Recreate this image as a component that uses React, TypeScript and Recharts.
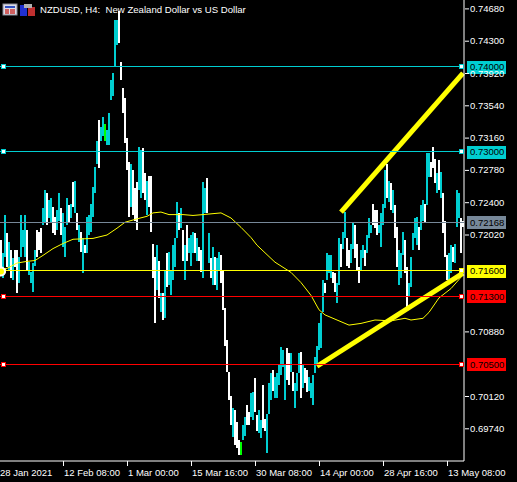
import React from "react";
import { ComposedChart, Bar, Cell, Line, XAxis, YAxis, ReferenceLine, ReferenceDot } from "recharts";

// H4 bars, prices in 1/10000
const barHighs = [
7196,7181,7225,7204,7194,7184,7175,7184,7184,7176,7225,7208,7225,7208,7170,7158,7169,7184,7208,7205,
7210,7234,7255,7251,7243,7245,7235,7223,7231,7251,7234,7228,7211,7245,7237,7239,7264,7266,7228,7214,
7205,7198,7190,7223,7225,7239,7258,7282,7313,7337,7329,7341,7333,7325,7345,7384,7393,7455,7455,7466,
7405,7375,7363,7316,7288,7286,7278,7257,7264,7305,7302,7304,7275,7266,7272,7272,7192,7176,7190,7172,
7134,7134,7161,7181,7182,7161,7190,7199,7241,7228,7234,7208,7190,7214,7199,7202,7205,7204,7199,7188,
7184,7264,7257,7269,7204,7175,7188,7176,7175,7182,7178,7161,7116,7078,7041,7013,6998,6996,6982,6961,
6958,6978,6988,7002,6994,7016,7017,7034,6990,6996,6984,7025,6986,6992,7028,7040,7043,7035,7040,7049,
7070,7067,7049,7069,7063,7063,7041,7028,7040,7063,7064,7049,7045,7043,7035,7028,7037,7058,7072,7099,
7110,7149,7145,7181,7178,7178,7158,7157,7145,7198,7192,7205,7229,7198,7184,7192,7217,7214,7192,7164,
7184,7190,7184,7202,7222,7214,7239,7231,7231,7214,7228,7239,7278,7286,7266,7263,7255,7237,7211,7184,
7181,7205,7196,7164,7145,7176,7204,7222,7223,7211,7237,7243,7239,7299,7299,7288,7305,7292,7275,7290,
7276,7251,7219,7178,7181,7190,7188,7192,7255,7252,7222,7219,
];
const barLows = [
7158,7152,7176,7164,7161,7152,7149,7164,7134,7146,7176,7188,7176,7161,7155,7145,7135,7166,7176,7184,
7181,7214,7216,7214,7222,7216,7204,7202,7208,7219,7202,7188,7176,7214,7216,7222,7235,7228,7208,7194,
7182,7157,7181,7181,7202,7205,7223,7252,7286,7281,7313,7319,7313,7308,7308,7361,7366,7400,7425,7428,
7384,7345,7310,7278,7223,7235,7225,7219,7208,7255,7246,7251,7243,7225,7235,7205,7152,7098,7137,7128,
7111,7102,7104,7141,7143,7131,7149,7164,7198,7208,7210,7172,7149,7172,7181,7166,7181,7181,7172,7172,
7158,7152,7228,7228,7169,7152,7143,7143,7137,7161,7145,7114,7072,7041,7008,6978,6964,6955,6952,6943,
6943,6961,6966,6978,6978,6988,6984,6994,6972,6969,6963,6975,6972,6945,6992,7008,7019,7010,7010,7025,
7037,7047,7008,7031,7025,7041,7019,6998,7019,7040,7010,7022,7028,7017,7019,7010,7002,7040,7049,7067,
7069,7111,7134,7149,7157,7152,7145,7135,7122,7143,7164,7186,7198,7166,7163,7169,7186,7175,7161,7145,
7161,7175,7166,7181,7199,7204,7214,7210,7202,7204,7188,7214,7234,7246,7241,7231,7228,7199,7164,7143,
7152,7178,7157,7117,7129,7141,7184,7199,7190,7184,7208,7219,7216,7237,7270,7270,7281,7263,7252,7255,
7246,7204,7176,7149,7145,7157,7170,7169,7211,7222,7181,7211,
];
// 1 = rising (cyan), 0 = falling (white), 2 = doji (green)
const barDirs = [
0,1,1,0,1,0,1,0,0,1,1,1,1,0,1,1,1,1,0,0,
0,1,1,0,1,1,0,0,1,1,0,1,1,1,0,1,0,1,0,1,
0,1,0,1,1,1,1,1,1,0,1,1,2,1,1,1,1,1,1,0,
0,0,0,0,0,1,0,0,0,1,1,0,0,1,0,0,0,0,1,0,
1,0,1,0,1,1,1,1,1,0,1,0,1,0,1,1,1,0,1,0,
0,1,1,0,1,0,1,0,1,1,0,0,0,0,0,0,1,0,0,0,
2,1,1,0,0,1,1,0,0,1,1,0,0,1,1,1,0,1,1,1,
1,1,1,0,0,1,0,1,1,1,0,1,0,0,1,1,1,1,1,1,
1,1,0,1,1,1,0,0,1,1,0,1,1,0,0,1,1,0,0,0,
1,1,0,1,1,1,0,0,0,1,1,1,1,0,1,0,1,0,0,1,
1,1,0,0,1,1,1,1,1,0,1,1,0,1,1,0,0,0,1,0,
1,0,0,0,1,1,0,1,1,1,0,0,
];
const barColors = ["#ffffff", "#00ced1", "#00ff00"];

const maIndex = [0,8,13,17,21,26,31,36,46,53,58,62,68,73,76,80,84,91,96,101,110,115,120,125,128,137,145,150,155,159,162,168,174,180,187,195,202,205,211,214,219,225,231];
const maValues = [7159,7169,7171,7172,7178,7186,7192,7197,7198,7202,7210,7217,7221,7224,7228,7229,7226,7226,7225,7226,7228,7222,7211,7199,7190,7170,7158,7146,7131,7114,7108,7102,7096,7098,7102,7101,7104,7102,7104,7111,7128,7139,7155];

const trendLowerIndex = [158, 231];
const trendLowerValues = [0.70476, 0.71571];
const trendUpperIndex = [170, 231];
const trendUpperValues = [0.72288, 0.73924];

const xLabels = ["28 Jan 2021","12 Feb 08:00","1 Mar 00:00","15 Mar 16:00","30 Mar 08:00","14 Apr 00:00","28 Apr 16:00","13 May 08:00"];
const yTicks = [0.7468,0.743,0.7392,0.7354,0.7316,0.7278,0.724,0.7202,0.7088,0.7012,0.6974];
const levels = [
  { value: 0.74, color: "#00ced1", handle: true },
  { value: 0.73, color: "#00ced1", handle: true },
  { value: 0.72168, color: "#778899", handle: false },
  { value: 0.716, color: "#ffff00", handle: true },
  { value: 0.713, color: "#ff0000", handle: true },
  { value: 0.705, color: "#ff0000", handle: true },
];

const data = barHighs.map((h, i) => {
  const m = maIndex.indexOf(i);
  const a = trendLowerIndex.indexOf(i);
  const b = trendUpperIndex.indexOf(i);
  return {
    idx: i,
    range: [barLows[i] / 10000, h / 10000],
    ma: m >= 0 ? maValues[m] / 10000 : null,
    trendA: a >= 0 ? trendLowerValues[a] : null,
    trendB: b >= 0 ? trendUpperValues[b] : null,
  };
});

const FONT = "'Liberation Sans', Arial, sans-serif";

const XTick = (p: any) => {
  const n = p.payload.value / 32;
  return (
    <g>
      <line x1={p.x - 1.5} x2={p.x - 1.5} y1={461} y2={466} stroke="#fff" />
      <text x={p.x - 1} y={473} fill="#fff" fontSize={9.5} fontFamily={FONT} textAnchor="start" dominantBaseline="middle">
        {xLabels[n]}
      </text>
    </g>
  );
};

const YTick = (p: any) => (
  <g>
    <line x1={465} x2={469} y1={p.y} y2={p.y} stroke="#fff" />
    <text x={470} y={p.y + 0.5} fill="#fff" fontSize={9.5} fontFamily={FONT} dominantBaseline="middle">
      {p.payload.value.toFixed(5)}
    </text>
  </g>
);

const Handle = (color: string) => (p: any) => (
  <rect x={p.cx - 2} y={p.cy - 2} width={4} height={4} fill="#fff" stroke={color} strokeWidth={1} shapeRendering="crispEdges" />
);

const Tag = (value: number, color: string) => (p: any) => {
  const y = p.viewBox.y;
  return (
    <g>
      <rect x={467} y={y - 6} width={39} height={13} fill={color} shapeRendering="crispEdges" />
      <text x={470} y={y + 1} fill="#000" fontSize={9.5} fontFamily={FONT} dominantBaseline="middle">
        {value.toFixed(5)}
      </text>
    </g>
  );
};

export default function App() {
  return (
    <div style={{ position: "absolute", left: 0, top: 0, width: 517, height: 482, background: "#000", overflow: "hidden" }}>
      <ComposedChart width={517} height={482} data={data} margin={{ top: 0, right: 0, bottom: 0, left: 0 }} barCategoryGap={0} barGap={0}>
        <XAxis dataKey="idx" type="category" height={21} interval={31} tick={XTick} tickLine={false} axisLine={{ stroke: "#fff" }} padding={{ left: 0, right: 0 }} />
        <YAxis orientation="right" width={53} domain={[0.693612, 0.747847]} allowDataOverflow ticks={yTicks} interval={0} tick={YTick} tickLine={false} axisLine={{ stroke: "#fff" }} />
        <Bar dataKey="range" barSize={2} isAnimationActive={false} shapeRendering="crispEdges">
          {data.map((d, i) => (
            <Cell key={i} fill={barColors[barDirs[i]]} />
          ))}
        </Bar>
        {levels.map((l) => (
          <ReferenceLine key={l.value} y={l.value} stroke={l.color} strokeWidth={1} shapeRendering="crispEdges" zIndex={700} label={Tag(l.value, l.color)} />
        ))}
        <Line dataKey="ma" stroke="#ffff00" strokeWidth={1} dot={false} connectNulls isAnimationActive={false} />
        <Line dataKey="trendA" stroke="#ffff00" strokeWidth={5} dot={false} connectNulls isAnimationActive={false} />
        <Line dataKey="trendB" stroke="#ffff00" strokeWidth={5} dot={false} connectNulls isAnimationActive={false} />
        {levels.filter((l) => l.handle).flatMap((l) => [
          <ReferenceDot key={l.value + "a"} x={1} y={l.value} ifOverflow="visible" zIndex={800} shape={Handle(l.color)} />,
          <ReferenceDot key={l.value + "b"} x={230} y={l.value} ifOverflow="visible" zIndex={800} shape={Handle(l.color)} />,
        ])}
      </ComposedChart>
      <svg width={36} height={14} style={{ position: "absolute", left: 2, top: 3 }}>
        <rect x={1} y={1} width={14} height={11} fill="#dcdce8" stroke="#8a8a96" />
        <rect x={3} y={3} width={10} height={2} fill="#3050c0" />
        <rect x={3} y={6} width={4} height={5} fill="#d06060" />
        <rect x={8} y={6} width={5} height={5} fill="#d06060" />
        <rect x={18} y={2} width={7} height={11} fill="#2030d0" />
        <rect x={26} y={4} width={7} height={9} fill="#c03030" />
        <rect x={22} y={1} width={8} height={4} fill="#b0b0b0" />
      </svg>
      <div style={{ position: "absolute", left: 40, top: 3, color: "#fff", fontFamily: FONT, fontSize: 9.6, lineHeight: "13px", whiteSpace: "pre" }}>
        NZDUSD, H4:  New Zealand Dollar vs US Dollar
      </div>
    </div>
  );
}
